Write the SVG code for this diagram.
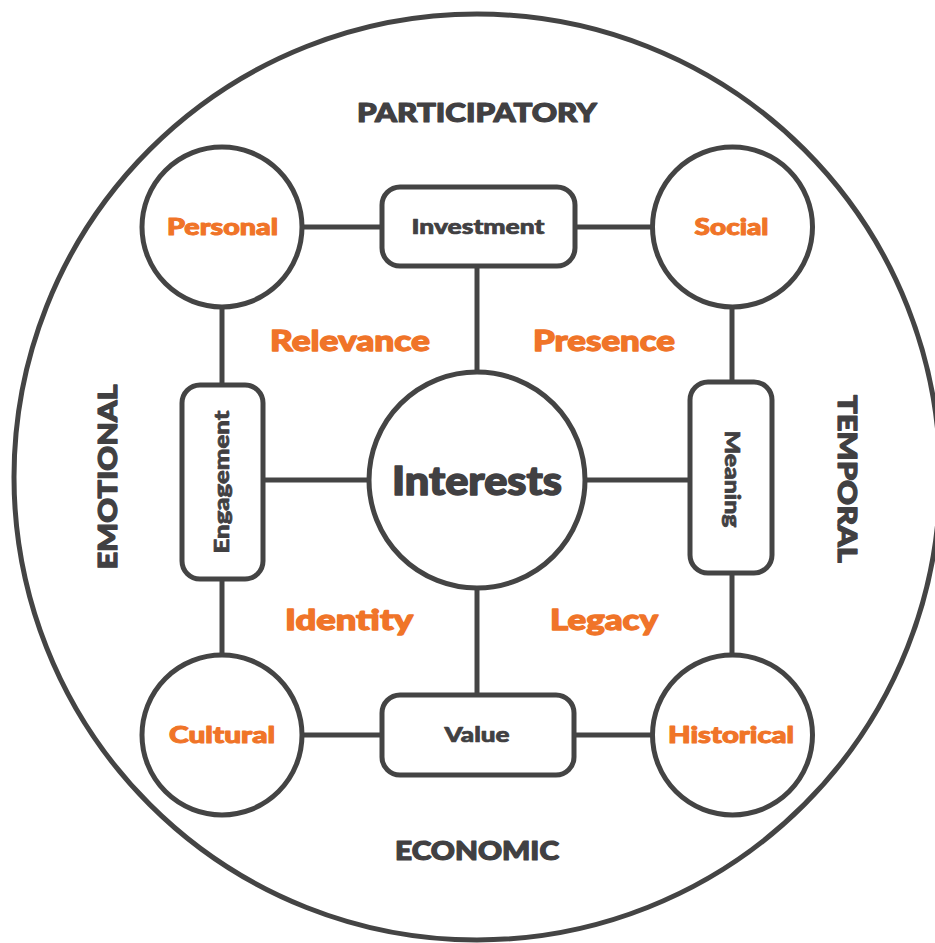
<svg xmlns="http://www.w3.org/2000/svg" width="935" height="943" viewBox="0 0 935 943">
<style>
.shape{fill:#fff;stroke:#444;stroke-width:5}
.line{stroke:#444;stroke-width:5;fill:none}
.t{font-family:Lato,"Open Sans","Liberation Sans",sans-serif;font-weight:900;text-anchor:middle;stroke-linejoin:round;stroke-width:1}
.dark{fill:#414042;stroke:#414042}
.orange{fill:#F07428;stroke:#F07428}
.axis{font-size:27px;stroke-width:1.2}
.node{font-size:22px}
.box{font-size:21px;stroke-width:0.7}
.quad{font-size:29px;stroke-width:1.3}
.big{font-size:39px;stroke-width:1.5}
</style>
<rect width="935" height="943" fill="#fff"/>
<g id="frame">
<circle cx="477" cy="477" r="463" class="shape"/>
</g>
<g id="connectors">
<line class="line" x1="302" y1="227" x2="382" y2="227"/>
<line class="line" x1="574" y1="227" x2="653" y2="227"/>
<line class="line" x1="477" y1="266" x2="477" y2="372"/>
<line class="line" x1="222" y1="307" x2="222" y2="385"/>
<line class="line" x1="222" y1="579" x2="222" y2="655"/>
<line class="line" x1="263" y1="480" x2="369" y2="480"/>
<line class="line" x1="585" y1="480" x2="690" y2="480"/>
<line class="line" x1="732" y1="307" x2="732" y2="382"/>
<line class="line" x1="732" y1="573" x2="732" y2="655"/>
<line class="line" x1="477" y1="588" x2="477" y2="695"/>
<line class="line" x1="302" y1="735" x2="382" y2="735"/>
<line class="line" x1="574" y1="735" x2="653" y2="735"/>
</g>
<g id="personal">
<circle cx="222" cy="227" r="80" class="shape"/>
<text class="t node orange" x="222.5" y="235" textLength="111" lengthAdjust="spacingAndGlyphs">Personal</text>
</g>
<g id="social">
<circle cx="732.5" cy="227" r="80" class="shape"/>
<text class="t node orange" x="731.5" y="235" textLength="74" lengthAdjust="spacingAndGlyphs">Social</text>
</g>
<g id="cultural">
<circle cx="222" cy="735" r="80" class="shape"/>
<text class="t node orange" x="222" y="743" textLength="106" lengthAdjust="spacingAndGlyphs">Cultural</text>
</g>
<g id="historical">
<circle cx="732.5" cy="735" r="80" class="shape"/>
<text class="t node orange" x="731" y="743" textLength="126" lengthAdjust="spacingAndGlyphs">Historical</text>
</g>
<g id="investment">
<rect x="382" y="187" width="193" height="79" rx="18" class="shape"/>
<text class="t box dark" x="478" y="234" textLength="133" lengthAdjust="spacingAndGlyphs">Investment</text>
</g>
<g id="value">
<rect x="382" y="695" width="192" height="80" rx="18" class="shape"/>
<text class="t box dark" x="477" y="742" textLength="65" lengthAdjust="spacingAndGlyphs">Value</text>
</g>
<g id="engagement">
<rect x="182" y="385" width="81" height="194" rx="18" class="shape"/>
<text class="t box dark" transform="translate(229 482) rotate(-90)" textLength="143" lengthAdjust="spacingAndGlyphs">Engagement</text>
</g>
<g id="meaning">
<rect x="690" y="382" width="82" height="191" rx="18" class="shape"/>
<text class="t box dark" transform="translate(725 479) rotate(90)" textLength="97" lengthAdjust="spacingAndGlyphs">Meaning</text>
</g>
<g id="interests">
<circle cx="477" cy="480" r="108" class="shape"/>
<text class="t big dark" x="477" y="495" textLength="170" lengthAdjust="spacingAndGlyphs">Interests</text>
</g>
<g id="quadrants">
<text class="t quad orange" x="350" y="351" textLength="160" lengthAdjust="spacingAndGlyphs">Relevance</text>
<text class="t quad orange" x="604" y="351" textLength="142" lengthAdjust="spacingAndGlyphs">Presence</text>
<text class="t quad orange" x="349" y="630" textLength="128" lengthAdjust="spacingAndGlyphs">Identity</text>
<text class="t quad orange" x="604" y="630" textLength="108" lengthAdjust="spacingAndGlyphs">Legacy</text>
</g>
<g id="axes">
<text class="t axis dark" x="477" y="122" textLength="240" lengthAdjust="spacingAndGlyphs">PARTICIPATORY</text>
<text class="t axis dark" x="477" y="860" textLength="164" lengthAdjust="spacingAndGlyphs">ECONOMIC</text>
<text class="t axis dark" transform="translate(117 477) rotate(-90)" textLength="185" lengthAdjust="spacingAndGlyphs">EMOTIONAL</text>
<text class="t axis dark" transform="translate(838 479) rotate(90)" textLength="168" lengthAdjust="spacingAndGlyphs">TEMPORAL</text>
</g>
</svg>
